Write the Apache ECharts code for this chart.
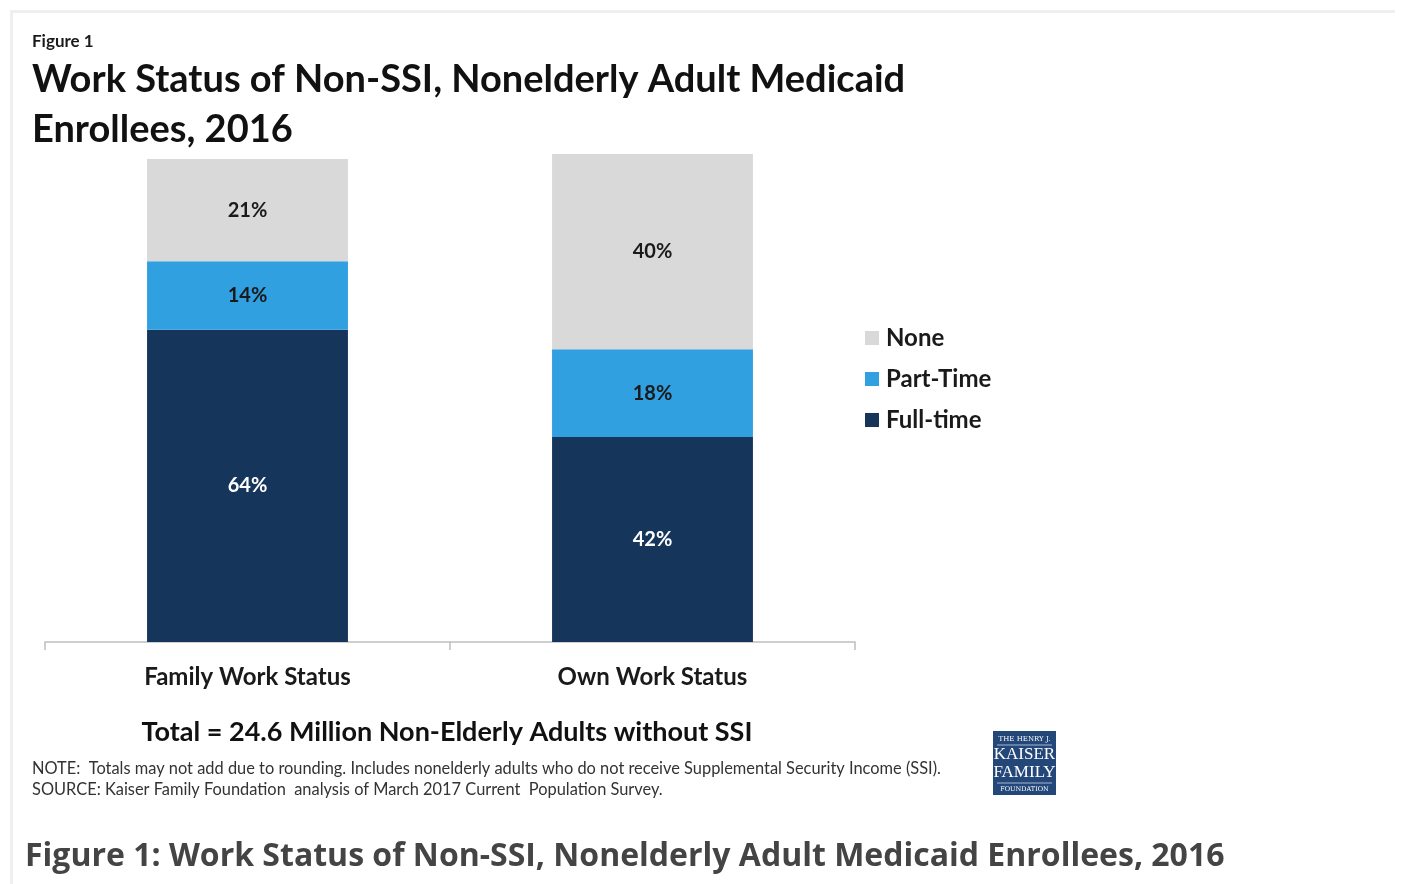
<!DOCTYPE html>
<html>
<head>
<meta charset="utf-8">
<script src="https://cdn.jsdelivr.net/npm/echarts@6/dist/echarts.min.js"></script>
<style>
  html, body { margin: 0; padding: 0; background: #ffffff; }
  #chart { width: 1403px; height: 884px; }
</style>
</head>
<body>
<div id="chart"></div>
<script>
// Work status categories and shares (percent of enrollees)
const categories = ['Family Work Status', 'Own Work Status'];
const seriesNames = ['None', 'Part-Time', 'Full-time'];
const fullTime = [64, 42];
const partTime = [14, 18];
const none = [21, 40];

const colors = {
  'None': '#d9d9d9',
  'Part-Time': '#30a0e0',
  'Full-time': '#15355b'
};
const labelColors = {
  'None': '#1a1a1a',
  'Part-Time': '#1a1a1a',
  'Full-time': '#ffffff'
};

const FONT = 'Lato, "Open Sans", sans-serif';

function barSeries(name, values) {
  return {
    name: name,
    type: 'bar',
    stack: 'work',
    data: values,
    barWidth: '49.6%',
    itemStyle: { color: colors[name] },
    label: {
      show: true,
      position: 'inside',
      formatter: '{c}%',
      color: labelColors[name],
      fontFamily: FONT,
      fontWeight: 'bold',
      fontSize: 20
    },
    emphasis: { disabled: true }
  };
}

const chart = echarts.init(document.getElementById('chart'), null, { renderer: 'canvas' });

chart.setOption({
  animation: false,
  backgroundColor: '#ffffff',
  grid: { left: 45, right: 548, top: 154, bottom: 242, containLabel: false },
  xAxis: {
    type: 'category',
    data: categories,
    boundaryGap: true,
    axisLine: { show: true, lineStyle: { color: '#bfbfbf', width: 1.5 } },
    axisTick: { show: true, alignWithLabel: false, length: 8, lineStyle: { color: '#bfbfbf', width: 1.5 } },
    axisLabel: {
      color: '#1a1a1a',
      fontFamily: FONT,
      fontWeight: 'bold',
      fontSize: 24,
      margin: 23
    }
  },
  yAxis: {
    type: 'value',
    min: 0,
    max: 100,
    show: false,
    splitLine: { show: false }
  },
  legend: {
    data: seriesNames,
    orient: 'vertical',
    left: 860,
    top: 321,
    icon: 'rect',
    itemWidth: 14,
    itemHeight: 14,
    itemGap: 17,
    selectedMode: false,
    textStyle: {
      color: '#1a1a1a',
      fontFamily: FONT,
      fontWeight: 'bold',
      fontSize: 24,
      padding: [0, 0, 0, 2]
    }
  },
  series: [
    barSeries('Full-time', fullTime),
    barSeries('Part-Time', partTime),
    barSeries('None', none)
  ],
  graphic: [
    // page frame
    { type: 'rect', shape: { x: 10, y: 10, width: 1385, height: 3 }, style: { fill: '#edf0ef' }, silent: true },
    { type: 'rect', shape: { x: 10, y: 10, width: 3, height: 874 }, style: { fill: '#edf0ef' }, silent: true },
    // headings
    { type: 'text', left: 32, top: 33, style: { text: 'Figure 1', fill: '#1a1a1a', font: 'bold 17px ' + FONT } },
    { type: 'text', left: 32, top: 61, style: { text: 'Work Status of Non-SSI, Nonelderly Adult Medicaid', fill: '#111111', font: 'bold 38px ' + FONT } },
    { type: 'text', left: 32, top: 111, style: { text: 'Enrollees, 2016', fill: '#111111', font: 'bold 38px ' + FONT } },
    // total note
    { type: 'text', x: 447, y: 732, style: { text: 'Total = 24.6 Million Non-Elderly Adults without SSI', fill: '#111111', font: 'bold 27px ' + FONT, align: 'center', verticalAlign: 'middle' } },
    // footnotes
    { type: 'text', left: 32, top: 761, style: { text: 'NOTE:  Totals may not add due to rounding. Includes nonelderly adults who do not receive Supplemental Security Income (SSI).', fill: '#333333', font: '16.4px ' + FONT } },
    { type: 'text', left: 32, top: 782, style: { text: 'SOURCE: Kaiser Family Foundation  analysis of March 2017 Current  Population Survey.', fill: '#333333', font: '16.4px ' + FONT } },
    // foundation mark
    {
      type: 'group', left: 993, top: 731,
      children: [
        { type: 'rect', shape: { x: 0, y: 0, width: 63, height: 64 }, style: { fill: '#24477a' } },
        { type: 'text', x: 31.5, y: 8, style: { text: 'THE HENRY J.', fill: '#ffffff', font: '7px "DejaVu Serif", serif', align: 'center', verticalAlign: 'middle' } },
        { type: 'line', shape: { x1: 4, y1: 14, x2: 59, y2: 14 }, style: { stroke: '#c9d3e3', lineWidth: 0.8 } },
        { type: 'text', x: 31.5, y: 24, style: { text: 'KAISER', fill: '#ffffff', font: '17px "Liberation Serif", serif', align: 'center', verticalAlign: 'middle' } },
        { type: 'text', x: 31.5, y: 42, style: { text: 'FAMILY', fill: '#ffffff', font: '17px "Liberation Serif", serif', align: 'center', verticalAlign: 'middle' } },
        { type: 'line', shape: { x1: 4, y1: 52, x2: 59, y2: 52 }, style: { stroke: '#c9d3e3', lineWidth: 0.8 } },
        { type: 'text', x: 31.5, y: 58, style: { text: 'FOUNDATION', fill: '#ffffff', font: '6.5px "DejaVu Serif", serif', align: 'center', verticalAlign: 'middle' } }
      ]
    },
    // caption
    { type: 'text', left: 25, top: 841, style: { text: 'Figure 1: Work Status of Non-SSI, Nonelderly Adult Medicaid Enrollees, 2016', fill: '#444444', font: 'bold 32px "Open Sans", sans-serif' } }
  ]
});
</script>
</body>
</html>
